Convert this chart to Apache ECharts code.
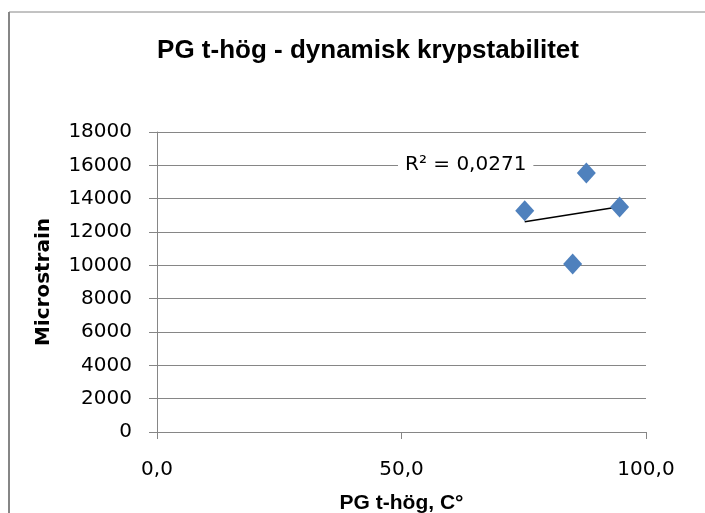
<!DOCTYPE html>
<html>
<head>
<meta charset="utf-8">
<script src="https://cdn.jsdelivr.net/npm/echarts@6/dist/echarts.min.js"></script>
<style>
html,body{margin:0;padding:0;background:#fff;}
#chart{width:705px;height:513px;}
</style>
</head>
<body>
<div id="chart"></div>
<script>
// Data
var tempHigh = [75.2, 85.0, 87.8, 94.6];          // PG t-hög, °C
var microstrain = [13275, 10080, 15540, 13500];   // Microstrain
var yTicks = [0, 2000, 4000, 6000, 8000, 10000, 12000, 14000, 16000, 18000];
var xTicks = [0, 50, 100];
var titleText = 'PG t-hög - dynamisk krypstabilitet';
var xName = 'PG t-hög, C°';
var yName = 'Microstrain';

// Linear trendline (least squares) and R²
function regress(xs, ys) {
  var n = xs.length, mx = 0, my = 0;
  for (var i = 0; i < n; i++) { mx += xs[i]; my += ys[i]; }
  mx /= n; my /= n;
  var sxy = 0, sxx = 0, syy = 0;
  for (var j = 0; j < n; j++) {
    sxy += (xs[j] - mx) * (ys[j] - my);
    sxx += (xs[j] - mx) * (xs[j] - mx);
    syy += (ys[j] - my) * (ys[j] - my);
  }
  var b = sxy / sxx;
  return { slope: b, intercept: my - b * mx, r2: (sxy * sxy) / (sxx * syy) };
}
var fit = regress(tempHigh, microstrain);
var xMin = Math.min.apply(null, tempHigh), xMax = Math.max.apply(null, tempHigh);
var trend = [[xMin, fit.intercept + fit.slope * xMin], [xMax, fit.intercept + fit.slope * xMax]];
var r2Text = 'R² = ' + fit.r2.toFixed(4).replace('.', ',');

var pts = tempHigh.map(function (x, i) { return [x, microstrain[i]]; });

var chart = echarts.init(document.getElementById('chart'), null, { renderer: 'canvas' });
var font = 'DejaVu Sans';
var boldFont = 'Liberation Sans';
chart.setOption({
  backgroundColor: '#ffffff',
  animation: false,
  title: {
    text: titleText,
    left: 363, top: 33, textAlign: 'center',
    textStyle: { fontFamily: boldFont, fontSize: 26, fontWeight: 'bold', color: '#000' }
  },
  grid: { left: 157, right: 59, top: 132, bottom: 81, containLabel: false, outerBoundsMode: 'none' },
  xAxis: {
    type: 'value', min: 0, max: 100, interval: 50,
    name: xName, nameLocation: 'middle', nameGap: 61,
    nameTextStyle: { fontFamily: boldFont, fontSize: 21, fontWeight: 'bold', color: '#000' },
    axisLine: { show: true, lineStyle: { color: '#868686', width: 1 } },
    axisTick: { show: true, inside: false, length: 7, lineStyle: { color: '#868686' } },
    axisLabel: {
      margin: 28, fontFamily: font, fontSize: 20, color: '#000',
      formatter: function (v) { return v.toFixed(1).replace('.', ','); }
    },
    splitLine: { show: false }
  },
  yAxis: {
    type: 'value', min: 0, max: 18000, interval: 2000,
    name: yName, nameLocation: 'middle', nameGap: 103, nameRotate: 90,
    nameTextStyle: { fontFamily: font, fontSize: 20, fontWeight: 'bold', color: '#000' },
    axisLine: { show: true, lineStyle: { color: '#868686', width: 1 } },
    axisTick: { show: true, inside: false, length: 8, lineStyle: { color: '#868686' } },
    axisLabel: {
      margin: 25, fontFamily: font, fontSize: 20, color: '#000',
      formatter: function (v) { return String(v); }
    },
    splitLine: { show: true, lineStyle: { color: '#868686', width: 1 } }
  },
  graphic: [
    { type: 'line', shape: { x1: 9, y1: 12, x2: 9, y2: 513 }, style: { stroke: '#868686', lineWidth: 2 } },
    { type: 'line', shape: { x1: 9, y1: 12, x2: 705, y2: 12 }, style: { stroke: '#868686', lineWidth: 1 } },
    {
      type: 'text', left: 398, top: 153, z: 100,
      style: {
        text: r2Text, fontFamily: font, fontSize: 20, fill: '#000',
        backgroundColor: '#fff', padding: [2, 7]
      }
    }
  ],
  series: [
    {
      type: 'scatter', data: pts, symbol: 'diamond', symbolSize: [19, 21],
      itemStyle: { color: '#4F81BD', opacity: 1 }, z: 3
    },
    {
      type: 'line', data: trend, symbol: 'none', z: 2,
      lineStyle: { color: '#000', width: 1.5 }
    }
  ]
});
</script>
</body>
</html>
